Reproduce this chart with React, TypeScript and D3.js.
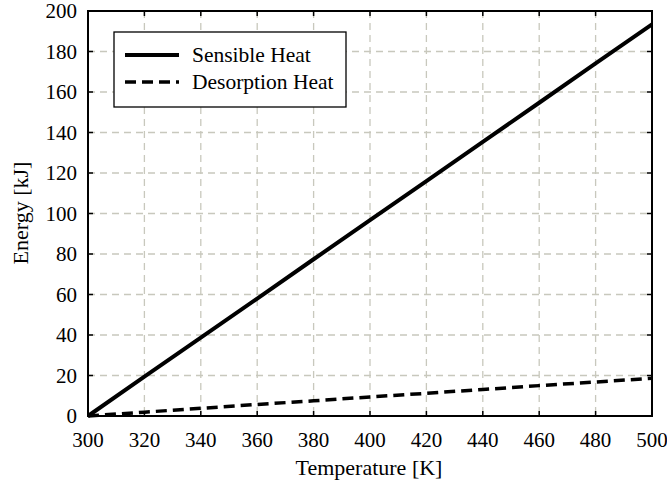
import * as d3 from "d3"

const temperatures = [300, 320, 340, 360, 380, 400, 420, 440, 460, 480, 500]
const sensibleHeat = [0, 19.4, 38.7, 58.0, 77.4, 96.7, 116.0, 135.4, 154.7, 174.1, 193.4]
const desorptionHeat = [0, 1.9, 3.8, 5.7, 7.5, 9.4, 11.2, 13.1, 15.0, 16.8, 18.6]
const xTicks = [300, 320, 340, 360, 380, 400, 420, 440, 460, 480, 500]
const yTicks = [0, 20, 40, 60, 80, 100, 120, 140, 160, 180, 200]
const seriesNames = ["Sensible Heat", "Desorption Heat"]

const W = 667
const H = 488
const margin = { left: 88, right: 15, top: 11, bottom: 72 }
const FONT = "Liberation Serif"

export default function App() {
  const innerW = W - margin.left - margin.right
  const innerH = H - margin.top - margin.bottom
  const x = d3.scaleLinear().domain([300, 500]).range([0, innerW])
  const y = d3.scaleLinear().domain([0, 200]).range([innerH, 0])

  const line = d3
    .line<number>()
    .x((_, i) => x(temperatures[i]))
    .y((d) => y(d))

  const gridColor = "#c8c8bd"
  const tickLen = 5

  return (
    <svg
      width={W}
      height={H}
      fontFamily={FONT}
      style={{ position: "absolute", left: 0, top: 0 }}
    >
      <rect width={W} height={H} fill="#fff" />
      <g transform={`translate(${margin.left},${margin.top})`}>
        {xTicks.slice(1, -1).map((t) => (
          <line
            key={"gx" + t}
            x1={x(t)}
            x2={x(t)}
            y1={0}
            y2={innerH}
            stroke={gridColor}
            strokeWidth={1.3}
            strokeDasharray="7,5"
          />
        ))}
        {yTicks.slice(1, -1).map((t) => (
          <line
            key={"gy" + t}
            x1={0}
            x2={innerW}
            y1={y(t)}
            y2={y(t)}
            stroke={gridColor}
            strokeWidth={1.3}
            strokeDasharray="7,5"
          />
        ))}
        {xTicks.map((t) => (
          <g key={"tx" + t}>
            <line x1={x(t)} x2={x(t)} y1={innerH} y2={innerH - tickLen} stroke="#000" strokeWidth={1.5} />
            <line x1={x(t)} x2={x(t)} y1={0} y2={tickLen} stroke="#000" strokeWidth={1.5} />
            <text x={x(t)} y={innerH + 31} textAnchor="middle" fontSize={21} fontFamily={FONT}>
              {t}
            </text>
          </g>
        ))}
        {yTicks.map((t) => (
          <g key={"ty" + t}>
            <line x1={0} x2={tickLen} y1={y(t)} y2={y(t)} stroke="#000" strokeWidth={1.5} />
            <line x1={innerW} x2={innerW - tickLen} y1={y(t)} y2={y(t)} stroke="#000" strokeWidth={1.5} />
            <text x={-11} y={y(t) + 7} textAnchor="end" fontSize={21} fontFamily={FONT}>
              {t}
            </text>
          </g>
        ))}

        <path d={line(sensibleHeat) ?? ""} fill="none" stroke="#000" strokeWidth={4} />
        <path
          d={line(desorptionHeat) ?? ""}
          fill="none"
          stroke="#000"
          strokeWidth={3.5}
          strokeDasharray="11,6"
        />

        <rect x={0} y={0} width={innerW} height={innerH} fill="none" stroke="#000" strokeWidth={2} />

        <g transform={`translate(${114 - margin.left},${32 - margin.top})`}>
          <rect x={0} y={0} width={232} height={75} fill="#fff" stroke="#000" strokeWidth={1.3} />
          {seriesNames.map((name, i) => (
            <g key={name} transform={`translate(0,${23 + i * 27})`}>
              <line
                x1={11}
                x2={65}
                y1={0}
                y2={0}
                stroke="#000"
                strokeWidth={i === 0 ? 4 : 3.5}
                strokeDasharray={i === 0 ? undefined : "11,6"}
              />
              <text x={78} y={7} fontSize={21.5} fontFamily={FONT}>
                {name}
              </text>
            </g>
          ))}
        </g>
      </g>

      <text x={369} y={475} textAnchor="middle" fontSize={22} fontFamily={FONT}>
        Temperature [K]
      </text>
      <text transform="translate(28,213) rotate(-90)" textAnchor="middle" fontSize={22} fontFamily={FONT}>
        Energy [kJ]
      </text>
    </svg>
  )
}
